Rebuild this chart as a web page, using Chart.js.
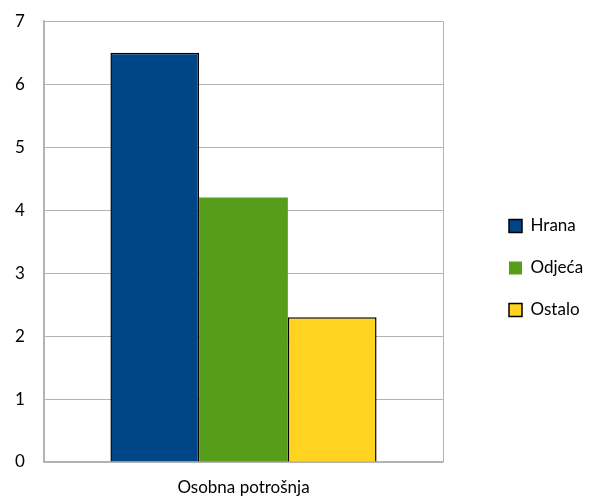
<!DOCTYPE html>
<html>
<head>
<meta charset="utf-8">
<script src="https://cdn.jsdelivr.net/npm/chart.js@4/dist/chart.umd.min.js"></script>
<style>
  body { margin: 0; background: #fff; }
  #c { display: block; }
</style>
</head>
<body>
<canvas id="c" width="590" height="498"></canvas>
<script>
// podaci
const categories = ['Osobna potrošnja'];
const seriesNames = ['Hrana', 'Odjeća', 'Ostalo'];
const hrana = [6.5];
const odjeca = [4.2];
const ostalo = [2.3];

const ctx = document.getElementById('c').getContext('2d');
Chart.defaults.font.family = "Lato, 'Open Sans', sans-serif";
Chart.defaults.color = '#000';

// legenda: fiksna sirina i pomak
const legendPlace = {
  id: 'legendPlace',
  beforeLayout(chart) {
    const lg = chart.legend;
    if (lg && !lg._patched) {
      const fit = lg.fit.bind(lg);
      lg.fit = function () {
        fit();
        this.width = 147;
      };
      lg._patched = true;
    }
  },
  afterLayout(chart) {
    const lg = chart.legend;
    if (lg) {
      lg.left += 41;
      lg.right = lg.left + 147;
      lg.top += 38;
    }
  }
};

const chart = new Chart(ctx, {
  type: 'bar',
  data: {
    labels: categories,
    datasets: [
      { label: seriesNames[0], data: hrana, backgroundColor: '#004586', borderColor: '#000', borderWidth: 1.5 },
      { label: seriesNames[1], data: odjeca, backgroundColor: '#579d1c', borderColor: '#579d1c', borderWidth: 0 },
      { label: seriesNames[2], data: ostalo, backgroundColor: '#ffd320', borderColor: '#000', borderWidth: 1.5 }
    ]
  },
  plugins: [legendPlace],
  options: {
    responsive: false,
    animation: false,
    layout: { padding: { left: 15, top: 0, right: 0, bottom: 0 } },
    datasets: { bar: { barPercentage: 1, categoryPercentage: 0.667 } },
    plugins: {
      tooltip: { enabled: false },
      legend: {
        position: 'right',
        align: 'center',
        labels: {
          boxWidth: 13,
          boxHeight: 13,
          padding: 25,
          font: { size: 17 },
          color: '#000'
        }
      }
    },
    scales: {
      x: {
        grid: { color: '#b3b3b3', lineWidth: 1, drawTicks: false },
        border: { color: '#b3b3b3', width: 1.5 },
        ticks: { font: { size: 17 }, padding: 15 },
        afterFit(scale) { scale.height = 36; }
      },
      y: {
        min: 0,
        max: 7,
        grid: { color: '#b3b3b3', lineWidth: 1, drawTicks: false },
        border: { color: '#b3b3b3', width: 1.5 },
        ticks: { stepSize: 1, font: { size: 17 }, padding: 11, crossAlign: 'far' },
        afterFit(scale) { scale.width = 29; }
      }
    }
  }
});
</script>
</body>
</html>
